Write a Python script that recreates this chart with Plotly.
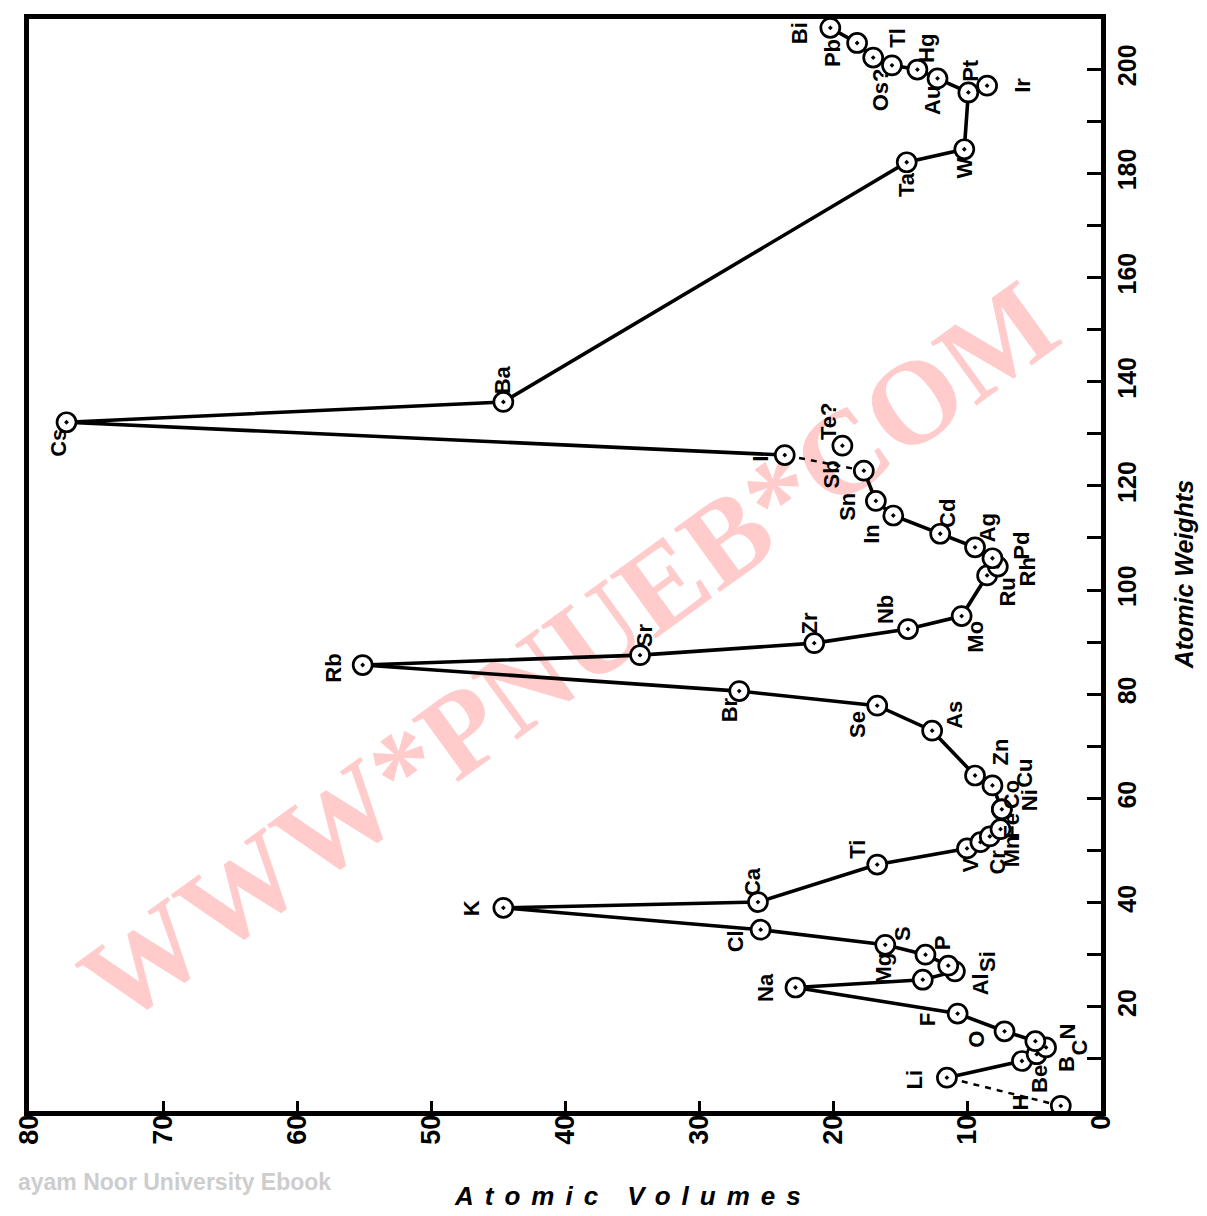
import plotly.graph_objects as go

# ---------------- data ----------------
symbols = ["H", "Li", "Be", "B", "C", "N", "O", "F", "Na", "Mg", "Al", "Si", "P", "S", "Cl",
           "K", "Ca", "Ti", "V", "Cr", "Mn", "Fe", "Co", "Ni", "Cu", "Zn", "As", "Se", "Br",
           "Rb", "Sr", "Zr", "Nb", "Mo", "Ru", "Rh", "Pd", "Ag", "Cd", "In", "Sn", "Sb", "Te?",
           "I", "Cs", "Ba", "Ta", "W", "Pt", "Ir", "Au", "Hg", "Os?", "Tl", "Pb", "Bi"]

atomic_volume = [3.0, 11.5, 5.9, 4.8, 4.1, 4.9, 7.2, 10.7, 22.8, 13.3, 10.9, 11.4, 13.1, 16.1, 25.4,
                 44.6, 25.6, 16.7, 10.0, 9.0, 8.3, 7.5, 7.4, 7.4, 8.1, 9.4, 12.6, 16.7, 27.0,
                 55.1, 34.4, 21.4, 14.4, 10.4, 8.5, 7.7, 8.1, 9.4, 12.0, 15.5, 16.8, 17.7, 19.3,
                 23.6, 77.2, 44.6, 14.5, 10.2, 9.9, 8.5, 12.2, 13.7, 15.6, 17.0, 18.2, 20.2]

atomic_weight = [1.0, 6.4, 9.6, 10.9, 12.2, 13.4, 15.3, 18.7, 23.7, 25.2, 26.8, 27.9, 30.0, 31.9, 34.8,
                 39.0, 40.1, 47.3, 50.4, 51.6, 52.7, 54.1, 57.9, 57.9, 62.5, 64.4, 73.0, 77.8, 80.6,
                 85.6, 87.5, 89.8, 92.5, 95.0, 102.8, 104.5, 106.1, 108.2, 110.8, 114.3, 117.1, 122.9, 127.7,
                 125.9, 132.2, 136.1, 182.1, 184.6, 195.5, 196.8, 198.2, 199.9, 200.7, 202.2, 205.0, 207.9]

# connectivity of the curve (by element)
solid_segments = [
    ["Li", "Be", "B", "C", "N", "O", "F", "Na", "Mg", "Al", "Si", "P", "S", "Cl", "K", "Ca",
     "Ti", "V", "Cr", "Mn", "Fe", "Co", "Cu", "Zn", "As", "Se", "Br", "Rb", "Sr", "Zr", "Nb",
     "Mo", "Ru", "Rh", "Pd", "Ag", "Cd", "In", "Sn", "Sb"],
    ["I", "Cs", "Ba", "Ta", "W", "Pt", "Ir"],
    ["Pt", "Au", "Hg", "Os?", "Tl", "Pb", "Bi"],
]
dashed_segments = [["H", "Li"], ["Sb", "I"]]

volume_ticks = [0, 10, 20, 30, 40, 50, 60, 70, 80]
weight_ticks = [20, 40, 60, 80, 100, 120, 140, 160, 180, 200]
weight_minor_ticks = [0, 10, 30, 50, 70, 90, 110, 130, 150, 170, 190, 210]

# ---------------- label placement (pixel offsets from each point) ----------------
LABEL_OFFSETS = {
    "H": (-40, 3), "Li": (-32, -2), "Be": (18, -18), "B": (30, -10), "C": (33, 0), "N": (32, 10),
    "O": (-28, -8), "F": (-30, -6), "Na": (-30, 0), "Mg": (-39, 11), "Al": (25, -13), "Si": (39, 4),
    "P": (17, 12), "S": (18, 11), "Cl": (-25, -12), "K": (-32, 0), "Ca": (-6, 21), "Ti": (-20, 15),
    "V": (3, -17), "Cr": (17, -20), "Mn": (22, -15), "Fe": (11, 3), "Co": (10, 15), "Ni": (28, 9),
    "Cu": (32, 12), "Zn": (25, 23), "As": (23, 16), "Se": (-20, -19), "Br": (-10, -19),
    "Rb": (-30, -3), "Sr": (4, 20), "Zr": (-5, 20), "Nb": (-23, 19), "Mo": (13, -21),
    "Ru": (20, -17), "Rh": (30, -5), "Pd": (29, 13), "Ag": (12, 19), "Cd": (8, 20),
    "In": (-22, -18), "Sn": (-28, -6), "Sb": (-32, -4), "Te?": (-14, 24), "I": (-25, -4),
    "Cs": (-8, -21), "Ba": (0, 22), "Ta": (0, -22), "W": (0, -19), "Pt": (2, 22), "Ir": (36, 0),
    "Au": (-5, -22), "Hg": (9, 21), "Os?": (-12, -24), "Tl": (24, 20), "Pb": (-24, -10),
    "Bi": (-30, -5),
}

pos = {s: (v, w) for s, v, w in zip(symbols, atomic_volume, atomic_weight)}

fig = go.Figure()

# watermark (drawn below the data)
fig.add_shape(type="line", xref="paper", yref="paper", x0=0.075, y0=0.052, x1=0.99, y1=0.704,
              line=dict(color="rgba(0,0,0,0)", width=1), layer="below",
              label=dict(text="WWW*PNUEB*COM", textangle=-36, textposition="middle",
                         font=dict(size=119, family="Liberation Serif", weight="bold",
                                   color="rgba(255,190,190,0.8)")))

for seg in solid_segments:
    fig.add_trace(go.Scatter(x=[pos[s][0] for s in seg], y=[pos[s][1] for s in seg],
                             mode="lines", line=dict(color="black", width=3.6),
                             hoverinfo="skip", showlegend=False))
for seg in dashed_segments:
    fig.add_trace(go.Scatter(x=[pos[s][0] for s in seg], y=[pos[s][1] for s in seg],
                             mode="lines", line=dict(color="black", width=2.5, dash="6px,6px"),
                             hoverinfo="skip", showlegend=False))

fig.add_trace(go.Scatter(x=atomic_volume, y=atomic_weight, mode="markers", text=symbols,
                         marker=dict(symbol="circle-dot", size=19, color="white",
                                     line=dict(color="black", width=2.7)),
                         showlegend=False))

label_font = dict(family="Liberation Sans", size=22, color="black", weight="bold")
for s, v, w in zip(symbols, atomic_volume, atomic_weight):
    dx, dy = LABEL_OFFSETS[s]
    fig.add_annotation(x=v, y=w, xref="x", yref="y", text=s, showarrow=False,
                       textangle=-90, xshift=dx, yshift=dy, font=label_font)

# axis titles and scan caption
fig.add_annotation(xref="paper", yref="paper", x=0.5636, y=-0.078, xanchor="center", yanchor="middle",
                   text='<i><span style="letter-spacing:11px">Atomic Volumes</span></i>',
                   showarrow=False, font=dict(family="Liberation Sans", size=26, color="black",
                                              weight="bold"))
fig.add_annotation(xref="paper", yref="paper", x=1.077, y=0.491, xanchor="center", yanchor="middle",
                   textangle=-90, text="<i>Atomic Weights</i>", showarrow=False,
                   font=dict(family="Liberation Sans", size=25, color="black", weight="bold"))
fig.add_annotation(xref="paper", yref="paper", x=-0.012, y=-0.065, xanchor="left", yanchor="middle",
                   text="ayam Noor University Ebook", showarrow=False,
                   font=dict(family="Liberation Sans", size=23,
                             color="rgb(205,205,205)", weight="bold"))

tick_font = dict(family="Liberation Sans", size=27, color="black", weight="bold")
fig.update_xaxes(range=[80, 0], tickmode="array", tickvals=volume_ticks,
                 ticks="inside", ticklen=10, tickwidth=3, tickcolor="black",
                 showline=True, linewidth=5, linecolor="black", mirror=True,
                 tickangle=-90, tickfont=tick_font, ticklabelstandoff=-12,
                 showgrid=False, zeroline=False)
fig.update_yaxes(range=[0, 209.6], side="right", tickmode="array", tickvals=weight_ticks,
                 ticks="inside", ticklen=14, tickwidth=3, tickcolor="black",
                 minor=dict(tickvals=weight_minor_ticks, ticks="inside", ticklen=14,
                            tickwidth=3, tickcolor="black"),
                 showline=True, linewidth=5, linecolor="black", mirror=True,
                 tickangle=-90, tickfont=dict(family="Liberation Sans", size=25, color="black",
                                              weight="bold"),
                 showgrid=False, zeroline=False)

# margins compensate for the 8px page margin of the html body
fig.update_layout(width=1207, height=1216, margin=dict(l=16, r=114, t=6, b=113),
                  paper_bgcolor="white", plot_bgcolor="rgba(0,0,0,0)")

fig.write_html("out.html")
